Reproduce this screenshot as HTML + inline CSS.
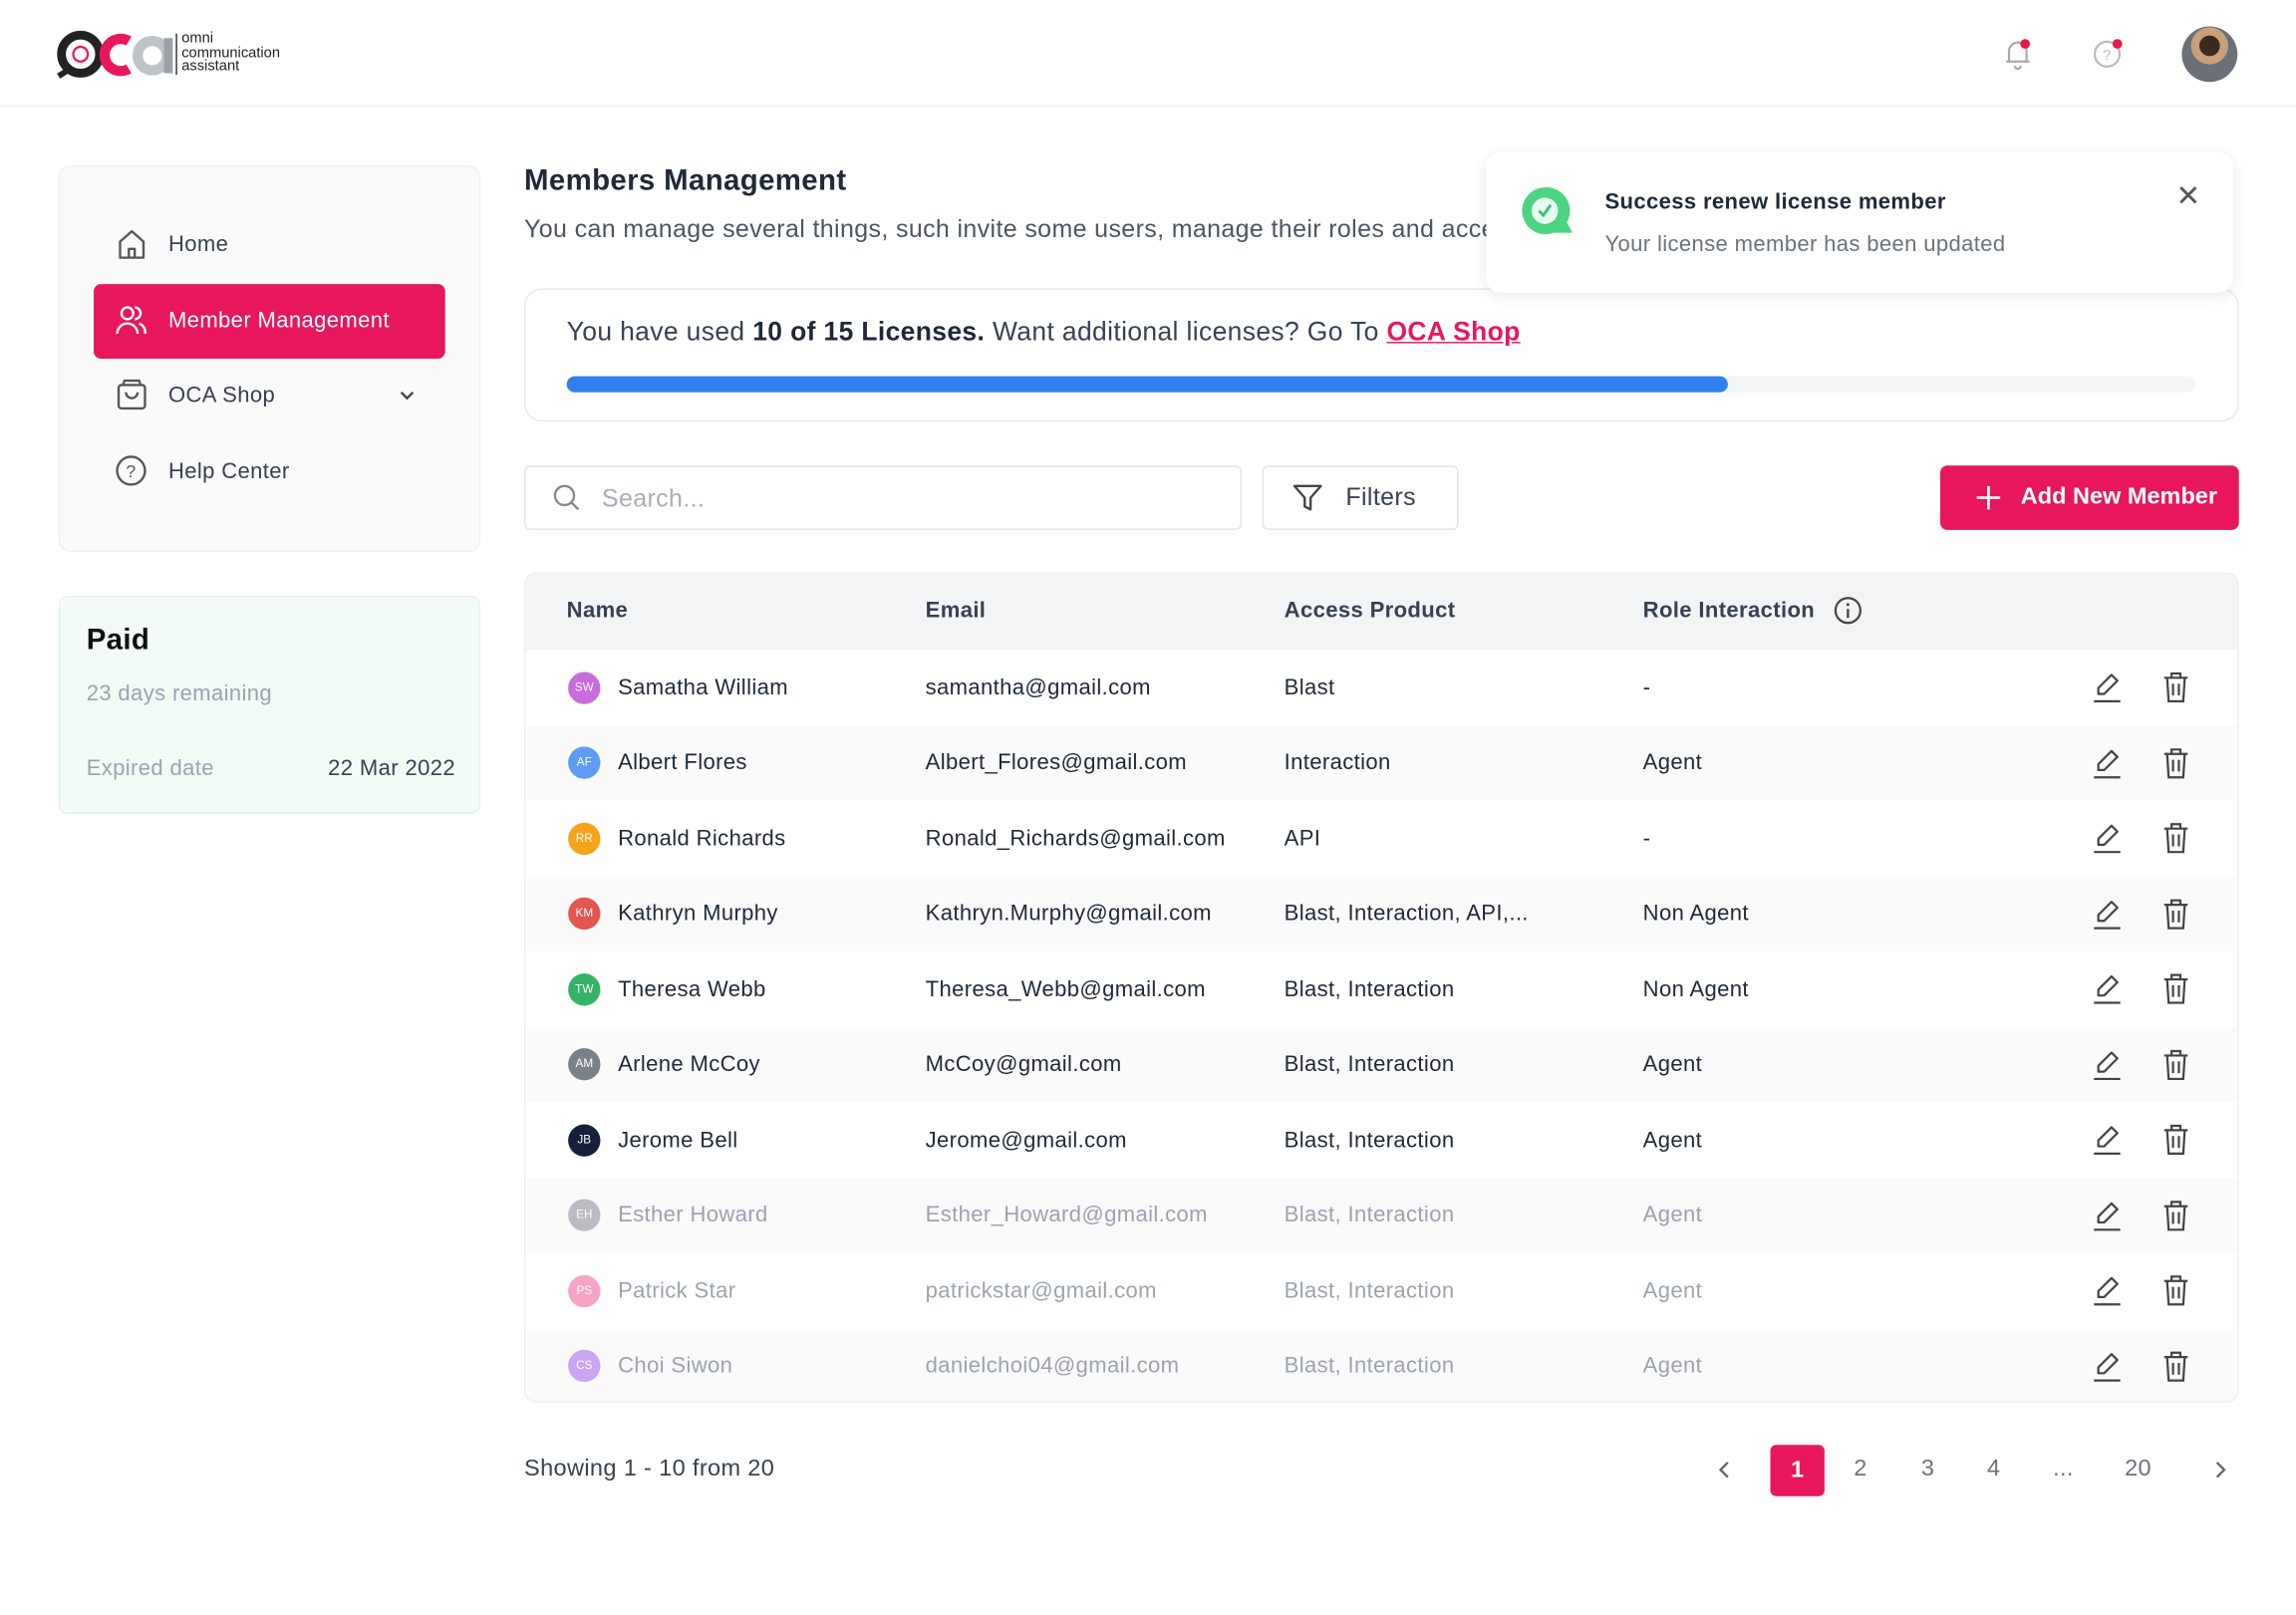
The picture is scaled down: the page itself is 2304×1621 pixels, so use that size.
<!DOCTYPE html>
<html><head><meta charset="utf-8"><style>
*{box-sizing:border-box;margin:0;padding:0}
body{width:2304px;height:1620px;overflow:hidden;background:#fff;font-family:"Liberation Sans",sans-serif;color:#1f2937}
#w{position:absolute;left:0;top:0;width:1568px;height:1103px;transform:scale(1.4694);transform-origin:0 0;letter-spacing:0.25px}
.a{position:absolute}
.t{position:absolute;white-space:nowrap;transform:translateY(-50%)}
.row{position:absolute;left:1px;width:1168px;height:51.5px}
.av{position:absolute;left:28px;width:22px;height:22px;border-radius:50%;color:#fff;font-size:8px;text-align:center;line-height:22px;top:14.75px;letter-spacing:0}
.c{position:absolute;top:50%;transform:translateY(-50%);font-size:15px;color:#1f2937;white-space:nowrap}
.f .c{color:#9ca3af}
</style></head><body><div id="w">
<!-- header -->
<div class="a" style="left:0;top:0;width:1568px;height:73px;border-bottom:1px solid #eef0f2"></div>
<svg class="a" style="left:38px;top:20px" width="82" height="34" viewBox="0 0 82 34">
<circle cx="17" cy="17" r="13" fill="none" stroke="#222" stroke-width="6"/><path d="M2 32 L10 27" stroke="#222" stroke-width="4"/>
<circle cx="17" cy="17" r="5" fill="none" stroke="#e8175d" stroke-width="1.5"/>
<path d="M50 8 A11 11 0 1 0 50 27" fill="none" stroke="#e8175d" stroke-width="7"/>
<circle cx="66" cy="18" r="10" fill="none" stroke="#bfc3c8" stroke-width="7"/><rect x="74" y="6" width="6" height="24" fill="#9aa0a6"/>
</svg>
<div class="a" style="left:120px;top:23px;width:1px;height:28px;background:#333"></div>
<div class="a" style="left:124px;top:22px;font-size:10px;line-height:9.5px;color:#222;letter-spacing:0">omni<br>communication<br>assistant</div>
<svg class="a" style="left:1368px;top:25px" width="22" height="24" viewBox="0 0 22 24"><path d="M4 17 V10 a6 6 0 0 1 12 0 V17 Z M2 17 H18 M8 20 a2 2 0 0 0 4 0" fill="none" stroke="#aaa" stroke-width="1.5"/><circle cx="15" cy="5" r="3.3" fill="#e8174d"/></svg>
<svg class="a" style="left:1428px;top:25px" width="24" height="24" viewBox="0 0 24 24"><circle cx="11" cy="12" r="8.5" fill="none" stroke="#bbb" stroke-width="1.5"/><text x="11" y="16" font-size="10" fill="#bbb" text-anchor="middle" font-family="Liberation Sans">?</text><circle cx="18" cy="5" r="3.3" fill="#e8174d"/></svg>
<div class="a" style="left:1490px;top:18px;width:38px;height:38px;border-radius:50%;background:radial-gradient(circle at 50% 35%,#3a2a20 0 22%,#c9a07a 23% 40%,#6b7078 41% 100%)"></div>
<!-- sidebar -->
<div class="a" style="left:40px;top:113px;width:288px;height:264px;background:#fafafa;border:1px solid #f0f0f0;border-radius:8px"></div>
<svg class="a" style="left:79px;top:156px" width="22" height="22" viewBox="0 0 22 22"><path d="M3 20 V9 L11 2 L19 9 V20 Z M9 20 V14 H13 V20" fill="none" stroke="#555" stroke-width="1.6" stroke-linejoin="round"/></svg>
<div class="t" style="left:115px;top:167px;font-size:15px;color:#374151">Home</div>
<div class="a" style="left:64px;top:194px;width:240px;height:51px;background:#e8175d;border-radius:5px"></div>
<svg class="a" style="left:79px;top:208px" width="22" height="22" viewBox="0 0 22 22"><circle cx="8" cy="6" r="4" fill="none" stroke="#fff" stroke-width="1.6"/><path d="M1 20 a7 7 0 0 1 14 0 M13 2 a4 4 0 0 1 0 8 M16 13 a6 6 0 0 1 4 7" fill="none" stroke="#fff" stroke-width="1.6"/></svg>
<div class="t" style="left:115px;top:219px;font-size:15px;color:#fff">Member Management</div>
<svg class="a" style="left:79px;top:259px" width="22" height="22" viewBox="0 0 22 22"><rect x="2" y="4" width="18" height="16" rx="2" fill="none" stroke="#555" stroke-width="1.6"/><path d="M5 4 L6 1 H16 L17 4 M7 9 a4 4 0 0 0 8 0" fill="none" stroke="#555" stroke-width="1.6"/></svg>
<div class="t" style="left:115px;top:270px;font-size:15px;color:#374151">OCA Shop</div>
<svg class="a" style="left:272px;top:266px" width="12" height="8" viewBox="0 0 12 8"><path d="M2 2 L6 6 L10 2" fill="none" stroke="#444" stroke-width="1.6"/></svg>
<svg class="a" style="left:78px;top:310px" width="23" height="23" viewBox="0 0 23 23"><circle cx="11.5" cy="11.5" r="9.5" fill="none" stroke="#555" stroke-width="1.6"/><text x="11.5" y="16" font-size="12" fill="#555" text-anchor="middle" font-family="Liberation Sans">?</text></svg>
<div class="t" style="left:115px;top:322px;font-size:15px;color:#374151">Help Center</div>
<!-- paid -->
<div class="a" style="left:40px;top:407px;width:288px;height:149px;background:#f2fbf6;border:1px solid #e6f2ec;border-radius:6px"></div>
<div class="t" style="left:59px;top:438px;font-size:20px;font-weight:bold;color:#111">Paid</div>
<div class="t" style="left:59px;top:474px;font-size:15px;color:#9ca3af">23 days remaining</div>
<div class="t" style="left:59px;top:525px;font-size:15px;color:#9ca3af">Expired date</div>
<div class="t" style="right:1257px;top:525px;font-size:15px;color:#374151">22 Mar 2022</div>
<!-- title -->
<div class="t" style="left:358px;top:124px;font-size:20px;font-weight:bold;color:#1f2937">Members Management</div>
<div class="t" style="left:358px;top:157px;font-size:17px;color:#4b5563">You can manage several things, such invite some users, manage their roles and access</div>
<!-- license -->
<div class="a" style="left:358px;top:197px;width:1171px;height:91px;border:1.5px solid #e8eaed;border-radius:12px;background:#fff"></div>
<div class="t" style="left:387px;top:227px;font-size:18px;color:#374151">You have used <b style="color:#1f2937">10 of 15 Licenses.</b> Want additional licenses? Go To <b style="color:#e8175d;text-decoration:underline">OCA Shop</b></div>
<div class="a" style="left:387px;top:257px;width:1112px;height:11px;background:#f3f4f6;border-radius:6px"></div>
<div class="a" style="left:387px;top:257px;width:793px;height:11px;background:#2f80ed;border-radius:6px"></div>
<!-- toast -->
<div class="a" style="left:1015px;top:104px;width:510px;height:96px;background:#fff;border-radius:10px;box-shadow:0 2px 10px rgba(0,0,0,0.09)"></div>
<svg class="a" style="left:1037px;top:126px" width="40" height="38" viewBox="0 0 40 38"><path d="M18 2 a16 16 0 1 0 6 31 L37 33 L33 26 A16 16 0 0 0 18 2 Z" fill="#4cd482"/><circle cx="18" cy="18" r="9" fill="#e9fbf0"/><path d="M14 18 L17 21 L22 14" fill="none" stroke="#3cc173" stroke-width="2"/></svg>
<div class="t" style="left:1096px;top:138px;font-size:15px;font-weight:bold;color:#1f2937">Success renew license member</div>
<div class="t" style="left:1096px;top:167px;font-size:15px;color:#6b7280">Your license member has been updated</div>
<div class="t" style="left:1486px;top:134px;font-size:20px;color:#555">✕</div>
<!-- search -->
<div class="a" style="left:358px;top:318px;width:490px;height:44px;border:1.5px solid #e2e4e8;border-radius:4px"></div>
<svg class="a" style="left:377px;top:330px" width="20" height="20" viewBox="0 0 20 20"><circle cx="8.5" cy="8.5" r="6.5" fill="none" stroke="#888" stroke-width="1.6"/><path d="M13.5 13.5 L18 18" stroke="#888" stroke-width="1.6"/></svg>
<div class="t" style="left:411px;top:341px;font-size:17px;color:#a8adb5">Search...</div>
<div class="a" style="left:862px;top:318px;width:134px;height:44px;border:1.5px solid #e2e4e8;border-radius:4px"></div>
<svg class="a" style="left:882px;top:329px" width="22" height="22" viewBox="0 0 22 22"><path d="M2 3 H20 L13 11 V19 L9 17 V11 Z" fill="none" stroke="#444" stroke-width="1.6" stroke-linejoin="round"/></svg>
<div class="t" style="left:919px;top:340px;font-size:17px;color:#374151">Filters</div>
<div class="a" style="left:1325px;top:318px;width:204px;height:44px;background:#e8175d;border-radius:5px"></div>
<svg class="a" style="left:1349px;top:331px" width="18" height="18" viewBox="0 0 18 18"><path d="M9 1 V17 M1 9 H17" stroke="#fff" stroke-width="1.8"/></svg>
<div class="t" style="left:1380px;top:340px;font-size:16px;font-weight:bold;color:#fff;letter-spacing:0">Add New Member</div>
<!-- table -->
<div class="a" style="left:358px;top:391px;width:1171px;height:567px;border:1.5px solid #eceef0;border-radius:8px;overflow:hidden">
<div class="a" style="left:0;top:0;width:1171px;height:52px;background:#f3f4f6"></div>
<div class="t" style="left:28px;top:25px;font-size:15px;font-weight:bold;color:#374151">Name</div>
<div class="t" style="left:273px;top:25px;font-size:15px;font-weight:bold;color:#374151">Email</div>
<div class="t" style="left:518px;top:25px;font-size:15px;font-weight:bold;color:#374151">Access Product</div>
<div class="t" style="left:763px;top:25px;font-size:15px;font-weight:bold;color:#374151">Role Interaction</div>
<svg class="a" style="left:893px;top:15px" width="20" height="20" viewBox="0 0 20 20"><circle cx="10" cy="10" r="8.5" fill="none" stroke="#444" stroke-width="1.5"/><path d="M10 9 V15" stroke="#444" stroke-width="1.6"/><circle cx="10" cy="6" r="1" fill="#444"/></svg>
<div id="rows"></div>
</div>
<script>
var d=[["SW","#c86bdd","Samatha William","samantha@gmail.com","Blast","-"],["AF","#5c9df2","Albert Flores","Albert_Flores@gmail.com","Interaction","Agent"],["RR","#f7a41c","Ronald Richards","Ronald_Richards@gmail.com","API","-"],["KM","#e5564e","Kathryn Murphy","Kathryn.Murphy@gmail.com","Blast, Interaction, API,...","Non Agent"],["TW","#35b366","Theresa Webb","Theresa_Webb@gmail.com","Blast, Interaction","Non Agent"],["AM","#7c7f8c","Arlene McCoy","McCoy@gmail.com","Blast, Interaction","Agent"],["JB","#16203c","Jerome Bell","Jerome@gmail.com","Blast, Interaction","Agent"],["EH","#b9bcc2","Esther Howard","Esther_Howard@gmail.com","Blast, Interaction","Agent"],["PS","#f7a3c6","Patrick Star","patrickstar@gmail.com","Blast, Interaction","Agent"],["CS","#c9a5f2","Choi Siwon","danielchoi04@gmail.com","Blast, Interaction","Agent"]];
var h="";
d.forEach(function(r,i){
h+='<div class="row'+(i>=7?' f':'')+'" style="top:'+(52+i*51.5)+'px;background:'+(i%2?'#fafafa':'#fff')+'">'+
'<div class="av" style="background:'+r[1]+'">'+r[0]+'</div>'+
'<div class="c" style="left:62px">'+r[2]+'</div><div class="c" style="left:272px">'+r[3]+'</div><div class="c" style="left:517px">'+r[4]+'</div><div class="c" style="left:762px">'+r[5]+'</div>'+
'<svg style="position:absolute;left:1069px;top:15px" width="20" height="22" viewBox="0 0 20 22"><path d="M4 15 L4 11 L13 2 L17 6 L8 15 Z M1 20 H19" fill="none" stroke="#444" stroke-width="1.5" stroke-linejoin="round"/></svg>'+
'<svg style="position:absolute;left:1117px;top:15px" width="18" height="21" viewBox="0 0 18 21"><path d="M1 4 H17 M6 4 V1 H12 V4 M3 4 L4 20 H14 L15 4 M7 8 V16 M11 8 V16" fill="none" stroke="#444" stroke-width="1.5"/></svg></div>';
});
document.getElementById("rows").innerHTML=h;
</script>
<!-- footer -->
<div class="t" style="left:358px;top:1004px;font-size:16px;color:#374151">Showing 1 - 10 from 20</div>
<svg class="a" style="left:1172px;top:997px" width="12" height="14" viewBox="0 0 12 14"><path d="M8 2 L3 7 L8 12" fill="none" stroke="#666" stroke-width="1.6"/></svg>
<div class="a" style="left:1209px;top:987px;width:37px;height:35px;background:#e8175d;border-radius:4px;color:#fff;font-size:16px;font-weight:bold;text-align:center;line-height:35px">1</div>
<div class="t" style="left:1266px;top:1004px;font-size:16px;color:#6b7280">2</div>
<div class="t" style="left:1312px;top:1004px;font-size:16px;color:#6b7280">3</div>
<div class="t" style="left:1357px;top:1004px;font-size:16px;color:#6b7280">4</div>
<div class="t" style="left:1402px;top:1004px;font-size:16px;color:#6b7280">...</div>
<div class="t" style="left:1451px;top:1004px;font-size:16px;color:#6b7280">20</div>
<svg class="a" style="left:1510px;top:997px" width="12" height="14" viewBox="0 0 12 14"><path d="M4 2 L9 7 L4 12" fill="none" stroke="#666" stroke-width="1.6"/></svg>
</div></body></html>
